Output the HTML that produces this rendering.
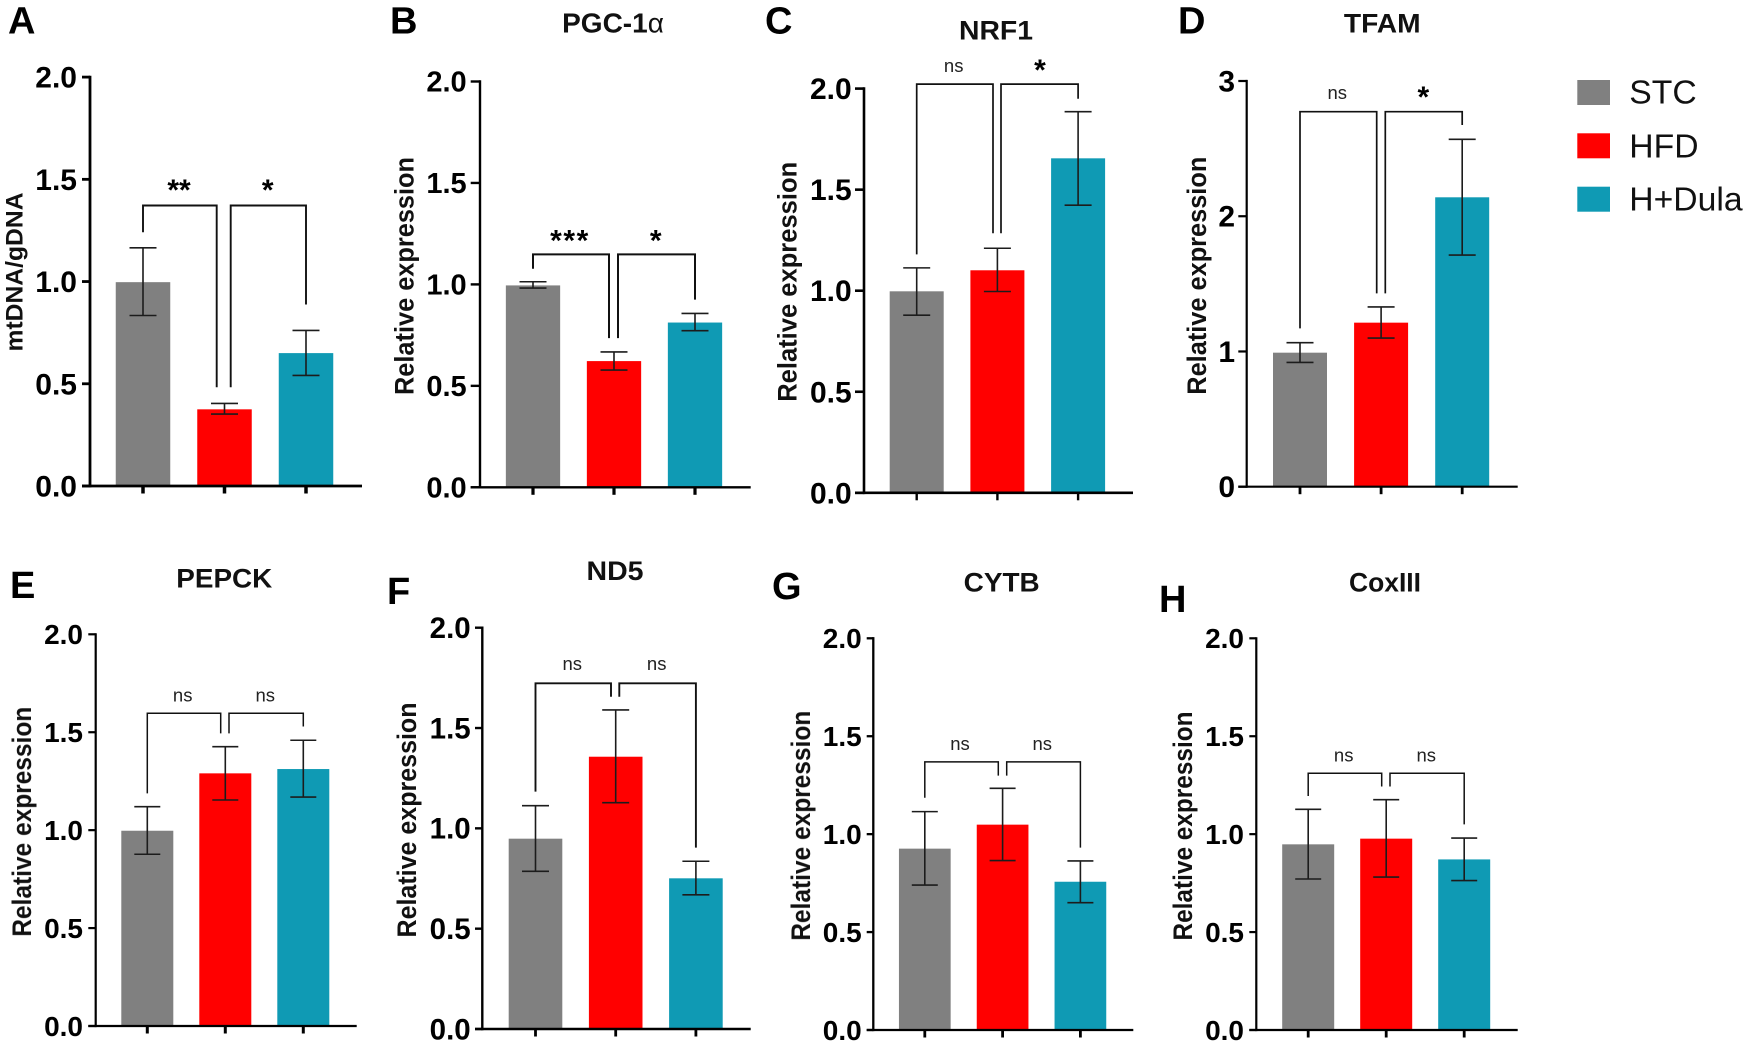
<!DOCTYPE html>
<html lang="en">
<head>
<meta charset="utf-8">
<title>Mitochondrial gene expression bar charts</title>
<style>
html,body{margin:0;padding:0;background:#fff;}
svg{display:block;font-family:"Liberation Sans",Arial,sans-serif;}
.letter{font-size:38px;font-weight:700;fill:#000;}
.title{font-size:27px;font-weight:700;fill:#111;text-anchor:middle;}
.ylab{font-size:26.5px;font-weight:700;fill:#111;text-anchor:middle;}
.leg{font-size:33.7px;fill:#111;}
</style>
</head>
<body>
<svg id="figure" xmlns="http://www.w3.org/2000/svg" width="1747" height="1045" viewBox="0 0 1747 1045">
  <rect x="0" y="0" width="1747" height="1045" fill="#fff"/>
  <g id="root" style="filter:blur(0.35px)">
    <text class="letter" x="8" y="33.5">A</text>
    <text class="letter" x="390" y="33.5">B</text>
    <text class="letter" x="765" y="33.5">C</text>
    <text class="letter" x="1178" y="33.5">D</text>
    <text class="letter" x="10" y="598">E</text>
    <text class="letter" x="387" y="604">F</text>
    <text class="letter" x="772" y="599">G</text>
    <text class="letter" x="1159" y="612">H</text>

    <text class="title" x="613" y="32.5" style="font-size:28px">PGC-1<tspan font-weight="400">α</tspan></text>
    <text class="title" x="996" y="39.6" textLength="74" lengthAdjust="spacingAndGlyphs">NRF1</text>
    <text class="title" x="1382.3" y="32.7" textLength="76.7" lengthAdjust="spacingAndGlyphs">TFAM</text>
    <text class="title" x="224.3" y="587.3" textLength="96" lengthAdjust="spacingAndGlyphs">PEPCK</text>
    <text class="title" x="615" y="580" textLength="57" lengthAdjust="spacingAndGlyphs">ND5</text>
    <text class="title" x="1001.7" y="591.7" textLength="76" lengthAdjust="spacingAndGlyphs">CYTB</text>
    <text class="title" x="1385" y="591.7" textLength="72" lengthAdjust="spacingAndGlyphs">CoxIII</text>

    <text class="ylab" transform="translate(22.5 272) rotate(-90)" textLength="159" lengthAdjust="spacingAndGlyphs" style="font-size:24px">mtDNA/gDNA</text>
    <text class="ylab" transform="translate(413.3 276) rotate(-90)" textLength="238" lengthAdjust="spacingAndGlyphs">Relative expression</text>
    <text class="ylab" transform="translate(796.7 281.8) rotate(-90)" textLength="240" lengthAdjust="spacingAndGlyphs">Relative expression</text>
    <text class="ylab" transform="translate(1206 275.7) rotate(-90)" textLength="238" lengthAdjust="spacingAndGlyphs">Relative expression</text>
    <text class="ylab" transform="translate(31 821.7) rotate(-90)" textLength="230" lengthAdjust="spacingAndGlyphs">Relative expression</text>
    <text class="ylab" transform="translate(416 820) rotate(-90)" textLength="235" lengthAdjust="spacingAndGlyphs">Relative expression</text>
    <text class="ylab" transform="translate(810 825.7) rotate(-90)" textLength="230" lengthAdjust="spacingAndGlyphs">Relative expression</text>
    <text class="ylab" transform="translate(1192 826) rotate(-90)" textLength="229" lengthAdjust="spacingAndGlyphs">Relative expression</text>

    <g>
      <rect x="1577.3" y="80" width="32.7" height="25" fill="#808080"/>
      <text class="leg" x="1629.3" y="103.3">STC</text>
      <rect x="1577.3" y="133.3" width="32.7" height="25" fill="#ff0000"/>
      <text class="leg" x="1629.3" y="157.3">HFD</text>
      <rect x="1577.3" y="186.7" width="32.7" height="25" fill="#0f9ab4"/>
      <text class="leg" x="1629.3" y="210.7">H+Dula</text>
    </g>
  </g>
</svg>
<script>
const categories = ['STC', 'HFD', 'H+Dula'];
const barColors = ['#808080', '#ff0000', '#0f9ab4'];
const ticks2 = ['0.0', '0.5', '1.0', '1.5', '2.0'];
const ticks3 = ['0', '1', '2', '3'];

const aValues = [0.997, 0.375, 0.65];
const aErrHigh = [1.165, 0.404, 0.761];
const aErrLow = [0.834, 0.352, 0.541];
const aBracketTop = [1.372];
const aBracketEnds = [1.241, 0.483, 0.483, 0.888];
const aSig = ['**', '*'];

const bValues = [0.995, 0.622, 0.812];
const bErrHigh = [1.013, 0.667, 0.857];
const bErrLow = [0.982, 0.578, 0.772];
const bBracketTop = [1.148];
const bBracketEnds = [1.077, 0.735, 0.735, 0.925];
const bSig = ['***', '*'];

const cValues = [0.997, 1.101, 1.655];
const cErrHigh = [1.113, 1.21, 1.886];
const cErrLow = [0.879, 0.996, 1.423];
const cBracketTop = [2.022];
const cBracketEnds = [1.18, 1.284, 1.284, 1.95];
const cSig = ['ns', '*'];

const dValues = [0.991, 1.213, 2.14];
const dErrHigh = [1.065, 1.329, 2.569];
const dErrLow = [0.919, 1.099, 1.713];
const dBracketTop = [2.773];
const dBracketEnds = [1.171, 1.43, 1.43, 2.675];
const dSig = ['ns', '*'];

const eValues = [0.997, 1.29, 1.312];
const eErrHigh = [1.12, 1.426, 1.459];
const eErrLow = [0.877, 1.154, 1.169];
const eBracketTop = [1.597];
const eBracketEnds = [1.188, 1.494, 1.494, 1.529];
const eSig = ['ns', 'ns'];

const fValues = [0.9485, 1.357, 0.751];
const fErrHigh = [1.113, 1.59, 0.836];
const fErrLow = [0.786, 1.128, 0.669];
const fBracketTop = [1.723];
const fBracketEnds = [1.183, 1.656, 1.656, 0.904];
const fSig = ['ns', 'ns'];

const gValues = [0.926, 1.0485, 0.757];
const gErrHigh = [1.115, 1.234, 0.863];
const gErrLow = [0.74, 0.865, 0.65];
const gBracketTop = [1.369];
const gBracketEnds = [1.186, 1.299, 1.299, 0.931];
const gSig = ['ns', 'ns'];

const hValues = [0.948, 0.977, 0.871];
const hErrHigh = [1.127, 1.176, 0.98];
const hErrLow = [0.771, 0.781, 0.763];
const hBracketTop = [1.311];
const hBracketEnds = [1.195, 1.243, 1.243, 1.05];
const hSig = ['ns', 'ns'];

const panels = [
  {id:'a', values:aValues, hi:aErrHigh, lo:aErrLow, top:aBracketTop, ends:aBracketEnds, sig:aSig, ticks:ticks2, yMax:2,
   g:{axisX:90, yTop:77.1, yZero:486, tickLeft:82, xEnd:362, x0:143, step:81.5, barW:54.5, capW:27, midL:216.7, midR:230.7, axisW:2.8, tickFs:30, tickEnd:77, sigX:[179,267.7], sigY:187, xTickW:3.5, brW:1.9}},
  {id:'b', values:bValues, hi:bErrHigh, lo:bErrLow, top:bBracketTop, ends:bBracketEnds, sig:bSig, ticks:ticks2, yMax:2,
   g:{axisX:480, yTop:81.5, yZero:487.3, tickLeft:470.7, xEnd:750.7, x0:533, step:81, barW:54.3, capW:27, midL:609, midR:618, axisW:2.4, tickFs:29, tickEnd:466.7, sigX:[570,655.7], sigY:237.4, xTickW:3.2, brW:2}},
  {id:'c', values:cValues, hi:cErrHigh, lo:cErrLow, top:cBracketTop, ends:cBracketEnds, sig:cSig, ticks:ticks2, yMax:2,
   g:{axisX:864, yTop:88.6, yZero:492.8, tickLeft:855, xEnd:1133, x0:916.7, step:80.7, barW:54, capW:27, midL:993, midR:1001, axisW:2.6, tickFs:30, tickEnd:851.7, sigX:[953.7,1040], sigY:67, xTickW:2.4, brW:1.7}},
  {id:'d', values:dValues, hi:dErrHigh, lo:dErrLow, top:dBracketTop, ends:dBracketEnds, sig:dSig, ticks:ticks3, yMax:3,
   g:{axisX:1246.7, yTop:81, yZero:486.7, tickLeft:1238.3, xEnd:1517.7, x0:1300, step:81.1, barW:54, capW:27, midL:1376.7, midR:1385.3, axisW:2.2, tickFs:30, tickEnd:1235, sigX:[1337.3,1423.3], sigY:94, xTickW:2.8, brW:1.7}},
  {id:'e', values:eValues, hi:eErrHigh, lo:eErrLow, top:eBracketTop, ends:eBracketEnds, sig:eSig, ticks:ticks2, yMax:2,
   g:{axisX:95.7, yTop:634.3, yZero:1026, tickLeft:88.3, xEnd:356.7, x0:147.3, step:78, barW:52, capW:26, midL:220.7, midR:229, axisW:2.2, tickFs:28, tickEnd:83, sigX:[182.7,265.3], sigY:696.7, xTickW:3, brW:1.5}},
  {id:'f', values:fValues, hi:fErrHigh, lo:fErrLow, top:fBracketTop, ends:fBracketEnds, sig:fSig, ticks:ticks2, yMax:2,
   g:{axisX:482.3, yTop:627.7, yZero:1029, tickLeft:475, xEnd:750.7, x0:535.5, step:80.2, barW:53.6, capW:27, midL:611, midR:619.3, axisW:2.4, tickFs:29.5, tickEnd:470.7, sigX:[572.3,656.7], sigY:665.3, xTickW:2.8, brW:1.9}},
  {id:'g', values:gValues, hi:gErrHigh, lo:gErrLow, top:gBracketTop, ends:gBracketEnds, sig:gSig, ticks:ticks2, yMax:2,
   g:{axisX:873.3, yTop:638.3, yZero:1030, tickLeft:866.7, xEnd:1133.3, x0:924.8, step:77.8, barW:51.7, capW:26, midL:998.3, midR:1006.7, axisW:2.3, tickFs:28, tickEnd:861.7, sigX:[960,1042.3], sigY:745, xTickW:2.8, brW:1.5}},
  {id:'h', values:hValues, hi:hErrHigh, lo:hErrLow, top:hBracketTop, ends:hBracketEnds, sig:hSig, ticks:ticks2, yMax:2,
   g:{axisX:1256.3, yTop:638.3, yZero:1030, tickLeft:1249.3, xEnd:1517.7, x0:1308.2, step:78, barW:52, capW:26, midL:1381.7, midR:1390, axisW:2.2, tickFs:28, tickEnd:1244, sigX:[1343.7,1426.3], sigY:756.7, xTickW:2.8, brW:1.5}}
];

const NS = 'http://www.w3.org/2000/svg';
const rootGroup = document.getElementById('root');

function mk(tag, attrs, parent) {
  const el = document.createElementNS(NS, tag);
  for (const k in attrs) el.setAttribute(k, attrs[k]);
  parent.appendChild(el);
  return el;
}

function drawPanel(p) {
  const g = p.g;
  const yScale = function (v) { return g.yZero - (v / p.yMax) * (g.yZero - g.yTop); };
  const xScale = function (i) { return g.x0 + i * g.step; };

  const group = mk('g', {}, rootGroup);
  
  

  // bars
  p.values.forEach(function (v, i) {
    const bar = mk('rect', {x: xScale(i) - g.barW / 2, y: yScale(v), width: g.barW, height: g.yZero - yScale(v), fill: barColors[i]}, group);
    
    
  });

  // error bars
  p.values.forEach(function (v, i) {
    const cx = xScale(i);
    const errPath = 'M' + cx + ' ' + yScale(p.hi[i]) + 'V' + yScale(p.lo[i]) +
      'M' + (cx - g.capW / 2) + ' ' + yScale(p.hi[i]) + 'H' + (cx + g.capW / 2) +
      'M' + (cx - g.capW / 2) + ' ' + yScale(p.lo[i]) + 'H' + (cx + g.capW / 2);
    const err = mk('path', {d: errPath, fill: 'none', stroke: '#1c1c1c', 'stroke-width': 1.6}, group);
    
    
  });

  // axes
  const yAxis = mk('line', {x1: g.axisX, x2: g.axisX, y1: g.yTop - g.axisW / 2, y2: g.yZero + g.axisW / 2, stroke: '#000', 'stroke-width': g.axisW}, group);
  
  

  const xAxis = mk('line', {x1: g.tickLeft, x2: g.xEnd, y1: g.yZero, y2: g.yZero, stroke: '#000', 'stroke-width': g.axisW}, group);
  
  

  // y ticks and labels
  p.ticks.forEach(function (label) {
    const ty = yScale(parseFloat(label));
    const tick = mk('line', {x1: g.tickLeft, x2: g.axisX, y1: ty, y2: ty, stroke: '#000', 'stroke-width': g.axisW}, group);
    
    
    const txt = mk('text', {x: g.tickEnd, y: ty + g.tickFs * 0.35, 'text-anchor': 'end', 'font-size': g.tickFs, 'font-weight': 700, fill: '#000'}, group);
    
    
    txt.textContent = label;
  });

  // x ticks
  categories.forEach(function (c, i) {
    const tick = mk('line', {x1: xScale(i), x2: xScale(i), y1: g.yZero, y2: g.yZero + 7.5, stroke: '#000', 'stroke-width': g.xTickW}, group);
    
    
  });

  // significance brackets
  const topY = yScale(p.top[0]);
  const leftPath = 'M' + xScale(0) + ' ' + yScale(p.ends[0]) + 'V' + topY + 'H' + g.midL + 'V' + yScale(p.ends[1]);
  const leftBr = mk('path', {d: leftPath, fill: 'none', stroke: '#111', 'stroke-width': g.brW}, group);
  
  
  const rightPath = 'M' + g.midR + ' ' + yScale(p.ends[2]) + 'V' + topY + 'H' + xScale(2) + 'V' + yScale(p.ends[3]);
  const rightBr = mk('path', {d: rightPath, fill: 'none', stroke: '#111', 'stroke-width': g.brW}, group);
  
  

  // significance labels
  p.sig.forEach(function (s, i) {
    const isNs = s === 'ns';
    const fs = isNs ? 18.5 : 30;
    const by = isNs ? g.sigY + 4.8 : g.sigY + fs * 0.44;
    const sig = mk('text', {x: g.sigX[i], y: by, 'text-anchor': 'middle', 'font-size': fs, 'font-weight': isNs ? 400 : 700, fill: isNs ? '#222' : '#000'}, group);
    if (s.length === 3) sig.setAttribute('letter-spacing', '1.6');
    
    
    sig.textContent = s;
  });
}

panels.forEach(drawPanel);
</script>
</body>
</html>
